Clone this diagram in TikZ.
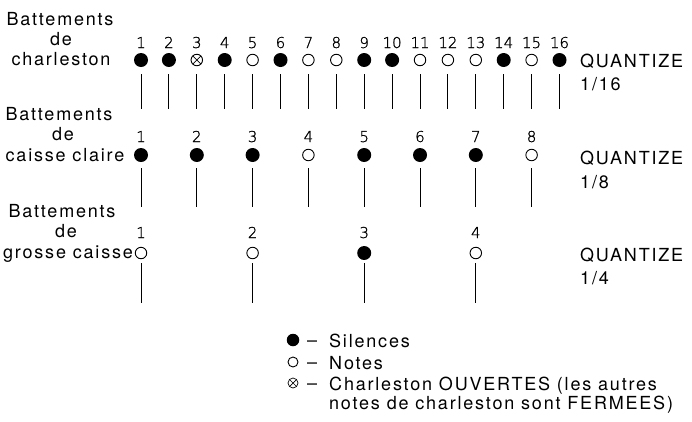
\documentclass[tikz,border=0pt]{standalone}
\usepackage{fontspec}
\setmainfont{TeX Gyre Heros}[LetterSpace=10]
\newfontfamily\numfont{DejaVu Sans}[UprightFont={* ExtraLight}, FakeBold=1.2]
\begin{document}
\begin{tikzpicture}[x=1pt,y=-1pt,
  lab/.style={font=\fontsize{18}{22}\selectfont, inner sep=0pt, anchor=base},
  lableft/.style={lab, anchor=base west},
  num/.style={font=\numfont\fontsize{15}{17}\selectfont, inner sep=0pt, anchor=base},
  sil/.style={circle, fill=black, minimum size=14pt, inner sep=0pt},
  note/.style={circle, draw=black, line width=0.9pt, minimum size=11.5pt, inner sep=0pt},
  ouv/.style={note, path picture={\draw[line width=0.7pt]
      (path picture bounding box.south west) -- (path picture bounding box.north east)
      (path picture bounding box.north west) -- (path picture bounding box.south east);}},
  stem/.style={line width=0.9pt}
]
\useasboundingbox (0,0) rectangle (692,421);

% row labels
\node[lab] (l1a) at (60,25) {Battements};
\node[lab] (l1b) at (61,45) {de};
\node[lab] (l1c) at (61,65) {charleston};
\node[lab] (l2a) at (59,120) {Battements};
\node[lab] (l2b) at (63,140) {de};
\node[lab] (l2c) at (65,161) {caisse claire};
\node[lab] (l3a) at (62,217) {Battements};
\node[lab] (l3b) at (66,237) {de};
\node[lab] (l3c) at (68,258) {grosse caisse};

% hi-hat: 16 beats
\foreach \i/\s in {1/sil,2/sil,3/ouv,4/sil,5/note,6/sil,7/note,8/note,9/sil,10/sil,11/note,12/note,13/note,14/sil,15/note,16/sil} {
  \pgfmathsetmacro\xx{141+(\i-1)*27.9}
  \node[\s] (h\i) at (\xx,60) {};
  \node[num] (hn\i) at (\xx,48) {\i};
  \coordinate (ht\i) at (\xx,74);
  \coordinate (hb\i) at (\xx,109);
  \draw[stem] (ht\i) -- (hb\i);
}

% snare: 8 beats
\foreach \i/\s in {1/sil,2/sil,3/sil,4/note,5/sil,6/sil,7/sil,8/note} {
  \pgfmathsetmacro\xx{141+(\i-1)*55.8}
  \node[\s] (s\i) at (\xx,155) {};
  \node[num] (sn\i) at (\xx,142) {\i};
  \coordinate (st\i) at (\xx,168);
  \coordinate (sb\i) at (\xx,207);
  \draw[stem] (st\i) -- (sb\i);
}

% bass drum: 4 beats
\foreach \i/\s in {1/note,2/note,3/sil,4/note} {
  \pgfmathsetmacro\xx{141+(\i-1)*111.6}
  \node[\s] (b\i) at (\xx,253) {};
  \node[num] (bn\i) at (\xx,238) {\i};
  \coordinate (bt\i) at (\xx,263);
  \coordinate (bb\i) at (\xx,303);
  \draw[stem] (bt\i) -- (bb\i);
}

% quantize values
\node[lableft] (q1) at (580,67) {QUANTIZE};
\node[lableft] (q1v) at (580,90) {1/16};
\node[lableft] (q2) at (580,164) {QUANTIZE};
\node[lableft] (q2v) at (580,188) {1/8};
\node[lableft] (q3) at (580,261) {QUANTIZE};
\node[lableft] (q3v) at (580,284) {1/4};

% legend
\node[sil, minimum size=12.5pt] (ks) at (293,340) {};
\node[note, minimum size=10pt] (kn) at (293,362) {};
\node[ouv, minimum size=10pt, line width=0.7pt] (ko) at (293,383) {};
\node[lab] (ds) at (312,346) {--};
\node[lab] (dn) at (312,368) {--};
\node[lab] (do) at (312,389) {--};
\node[lableft] (ts) at (329,347) {Silences};
\node[lableft] (tn) at (329,369) {Notes};
\node[lableft] (to1) at (329,390) {Charleston OUVERTES (les autres};
\node[lableft] (to2) at (329,409) {notes de charleston sont FERMEES)};
\end{tikzpicture}
\end{document}
